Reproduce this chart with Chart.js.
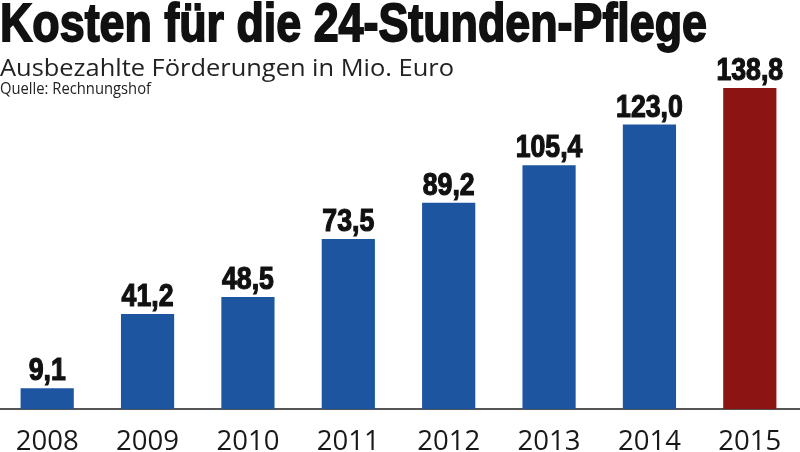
<!DOCTYPE html>
<html>
<head>
<meta charset="utf-8">
<script src="https://cdn.jsdelivr.net/npm/chart.js@4"></script>
<style>
  html, body { margin: 0; padding: 0; background: #fff; }
  #wrap { position: relative; width: 800px; height: 452px; overflow: hidden; }
  .hdr { position: absolute; left: 0; white-space: nowrap; transform-origin: 0 0; color: #111; }
  #title { top: -4px; font: bold 53px/53px "Liberation Sans", Arial, sans-serif; -webkit-text-stroke: 1.8px #111; }
  #subtitle { top: 55px; font: 24px/24px "Open Sans", sans-serif; color: #222; }
  #source { top: 80px; font: 16px/16px "Open Sans", sans-serif; color: #222; }
  #chartBox { position: absolute; left: -3px; top: 0; width: 803px; height: 476px; }
</style>
</head>
<body>
<div id="wrap">
  <div id="chartBox"><canvas id="c"></canvas></div>
  <div class="hdr" id="title" data-w="707">Kosten für die 24-Stunden-Pflege</div>
  <div class="hdr" id="subtitle" data-w="454">Ausbezahlte Förderungen in Mio. Euro</div>
  <div class="hdr" id="source" data-w="151">Quelle: Rechnungshof</div>
</div>
<script>
// data
const years = ["2008", "2009", "2010", "2011", "2012", "2013", "2014", "2015"];
const payouts = [9.1, 41.2, 48.5, 73.5, 89.2, 105.4, 123.0, 138.8];
const barColors = ["#1e55a0", "#1e55a0", "#1e55a0", "#1e55a0", "#1e55a0", "#1e55a0", "#1e55a0", "#8c1413"];

/** Squeeze header lines horizontally to the widths in the picture. */
document.querySelectorAll(".hdr").forEach((el) => {
  const target = Number(el.dataset.w);
  const w = el.getBoundingClientRect().width;
  el.style.transform = "scaleX(" + (target / w) + ")";
});

/** Condensed bold value labels above each bar. */
const valueLabels = {
  id: "valueLabels",
  afterDatasetsDraw(chart) {
    const ctx = chart.ctx;
    const meta = chart.getDatasetMeta(0);
    ctx.save();
    ctx.font = "bold 31px 'Liberation Sans', Arial, sans-serif";
    ctx.fillStyle = "#111";
    ctx.strokeStyle = "#111";
    ctx.lineWidth = 1.2;
    ctx.textAlign = "center";
    ctx.textBaseline = "alphabetic";
    meta.data.forEach((bar, i) => {
      const txt = payouts[i].toFixed(1).replace(".", ",");
      ctx.save();
      ctx.translate(bar.x, bar.y - 8);
      ctx.scale(0.86, 1);
      ctx.fillText(txt, 0, 0);
      ctx.strokeText(txt, 0, 0);
      ctx.restore();
    });
    ctx.restore();
  },
};

new Chart(document.getElementById("c"), {
  type: "bar",
  data: {
    labels: years,
    datasets: [{
      data: payouts,
      backgroundColor: barColors,
      categoryPercentage: 1,
      barPercentage: 0.53,
    }],
  },
  options: {
    responsive: true,
    maintainAspectRatio: false,
    animation: false,
    layout: { padding: { top: 62, left: 0, right: 0, bottom: 0 } },
    scales: {
      x: {
        grid: { display: false, drawTicks: false },
        border: { display: true, color: "#555", width: 2 },
        ticks: {
          color: "#181818",
          padding: 17,
          font: { family: "'Open Sans', sans-serif", size: 27.5, lineHeight: 1.19 },
        },
      },
      y: { display: false, min: 0, max: 150 },
    },
    plugins: {
      legend: { display: false },
      tooltip: { enabled: false },
    },
  },
  plugins: [valueLabels],
});
</script>
</body>
</html>
